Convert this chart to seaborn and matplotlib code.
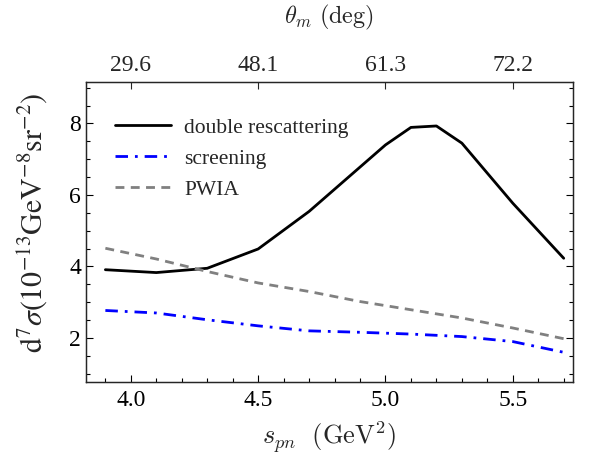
import matplotlib
matplotlib.use("Agg")
import matplotlib.pyplot as plt
import pandas as pd
import seaborn as sns
from matplotlib.ticker import MultipleLocator

# values
s_rescat = [3.9, 4.1, 4.3, 4.5, 4.7, 5.0, 5.1, 5.2, 5.3, 5.5, 5.7]
rescat = [3.91, 3.83, 3.95, 4.49, 5.54, 7.40, 7.89, 7.93, 7.45, 5.77, 4.23]

s_grid = [3.9, 4.1, 4.3, 4.5, 4.7, 4.9, 5.1, 5.3, 5.5, 5.7]
screening = [2.77, 2.70, 2.51, 2.34, 2.20, 2.16, 2.11, 2.04, 1.90, 1.60]
pwia = [4.51, 4.21, 3.86, 3.54, 3.30, 3.02, 2.79, 2.56, 2.28, 1.98]

top_ticks = [4.0, 4.5, 5.0, 5.5]
top_labels = ["29.6", "48.1", "61.3", "72.2"]

sns.set_style("ticks")
plt.rcParams["font.family"] = ["Liberation Serif", "DejaVu Serif"]
plt.rcParams["mathtext.fontset"] = "stix"

fig = plt.figure(figsize=(5.9, 4.68), dpi=100)
ax = fig.add_axes([0.1458, 0.1838, 0.8252, 0.641])

sns.lineplot(x=s_rescat, y=rescat, ax=ax, color="black", lw=2.0,
             label="double rescattering")
sns.lineplot(x=s_grid, y=screening, ax=ax, color="#0000ff", lw=2.0,
             label="screening")
ax.lines[-1].set_dashes([4.5, 2.5, 1, 2.5])
sns.lineplot(x=s_grid, y=pwia, ax=ax, color="#808080", lw=2.0,
             label="PWIA")
ax.lines[-1].set_dashes([3.2, 2.3])

ax.set_xlim(3.824, 5.736)
ax.set_ylim(0.77, 9.16)
ax.xaxis.set_major_locator(MultipleLocator(0.5))
ax.xaxis.set_minor_locator(MultipleLocator(0.1))
ax.yaxis.set_major_locator(MultipleLocator(2))
ax.yaxis.set_minor_locator(MultipleLocator(0.5))
ax.xaxis.set_major_formatter(lambda v, p: f"{v:.1f}")
ax.tick_params(which="both", direction="in", right=True, labelsize=17,
               width=0.8, colors="black")
ax.tick_params(which="major", length=5)
ax.tick_params(which="minor", length=3)
ax.tick_params(axis="x", pad=6)
for sp in ax.spines.values():
    sp.set_linewidth(1.0)

ax.set_xlabel(r"$s_{pn}\ \ (\mathrm{GeV}^2)$", fontsize=19,
              math_fontfamily="cm", labelpad=6)
ax.set_ylabel(r"$\mathrm{d}^7\sigma(10^{-13}\mathrm{GeV}^{-8}\mathrm{sr}^{-2})$",
              fontsize=21.5)
ax.yaxis.set_label_coords(-0.074, 0.53)

top = ax.twiny()
top.set_xlim(ax.get_xlim())
top.set_xticks(top_ticks)
top.set_xticklabels(top_labels)
top.tick_params(direction="in", length=5, width=0.8, labelsize=17, pad=4)
top.set_xlabel(r"$\theta_m\ (\mathrm{deg})$", fontsize=17.5,
               math_fontfamily="cm", labelpad=23)

leg = ax.legend(loc="upper left", bbox_to_anchor=(0.02, 0.945), frameon=False,
                fontsize=15.5, handlelength=2.6, handletextpad=0.6,
                labelspacing=0.5)

fig.savefig("out.png", dpi=100)
